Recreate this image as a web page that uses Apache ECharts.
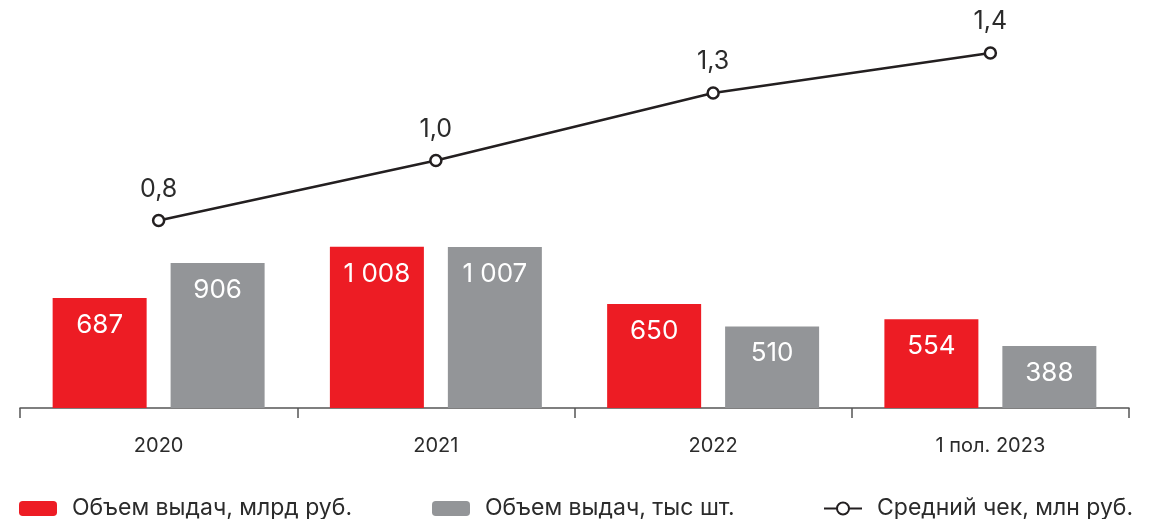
<!DOCTYPE html>
<html><head><meta charset="utf-8">
<script src="https://cdn.jsdelivr.net/npm/echarts@6/dist/echarts.min.js"></script>
<style>html,body{margin:0;padding:0;background:#fff}#c{width:1150px;height:519px}</style>
</head><body><div id="c"></div>
<script>
const categories = ['2020', '2021', '2022', '1 пол. 2023'];
const volumeRub = [687, 1008, 650, 554];
const volumeCount = [906, 1007, 510, 388];
const avgCheck = [0.75, 0.99, 1.26, 1.42];
const seriesNames = ['Объем выдач, млрд руб.', 'Объем выдач, тыс шт.', 'Средний чек, млн руб.'];

const FONT = 'Inter';
const fmtThousands = v => String(v).replace(/\B(?=(\d{3})+(?!\d))/g, ' ');
const chart = echarts.init(document.getElementById('c'));
const legendText = {fontSize: 23, color: '#2b2b2b', fontFamily: FONT, padding: [0, 0, 0, 10]};
chart.setOption({
  animation: false,
  textStyle: {fontFamily: FONT},
  grid: {left: 20, right: 21, top: 8, bottom: 111},
  legend: [
    {data: [seriesNames[0]], left: 14, top: 492, itemWidth: 38, itemHeight: 15, textStyle: legendText},
    {data: [seriesNames[1]], left: 427, top: 492, itemWidth: 38, itemHeight: 15, textStyle: legendText},
    {data: [seriesNames[2]], left: 818, top: 492, itemWidth: 38, itemHeight: 15, textStyle: legendText}
  ],
  xAxis: {
    type: 'category', data: categories,
    axisLine: {lineStyle: {color: '#555', width: 1.5}},
    axisTick: {show: true, length: 10, lineStyle: {color: '#555', width: 1.5}},
    axisLabel: {fontSize: 20, color: '#2b2b2b', margin: 28, fontFamily: FONT}
  },
  yAxis: [
    {type: 'value', min: 0, max: 2500, show: false, splitLine: {show: false}},
    {type: 'value', min: 0, max: 1.6, show: false, splitLine: {show: false}}
  ],
  series: [
    {name: seriesNames[0], type: 'bar', data: volumeRub, barWidth: 94, barGap: '25.5%',
     itemStyle: {color: '#ED1C24'},
     label: {show: true, position: 'insideTop', distance: 14, color: '#fff', fontSize: 26, fontFamily: FONT, formatter: p => fmtThousands(p.value)}},
    {name: seriesNames[1], type: 'bar', data: volumeCount, barWidth: 94,
     itemStyle: {color: '#939598'},
     label: {show: true, position: 'insideTop', distance: 14, color: '#fff', fontSize: 26, fontFamily: FONT, formatter: p => fmtThousands(p.value)}},
    {name: seriesNames[2], type: 'line', yAxisIndex: 1, data: avgCheck,
     symbol: 'circle', symbolSize: 11, showAllSymbol: true,
     lineStyle: {color: '#231F20', width: 2.5},
     itemStyle: {color: '#fff', borderColor: '#231F20', borderWidth: 2.5},
     label: {show: true, position: 'top', distance: 12, color: '#2b2b2b', fontSize: 25, fontFamily: FONT, formatter: p => p.value.toFixed(1).replace('.', ',')}}
  ]
});
</script></body></html>
